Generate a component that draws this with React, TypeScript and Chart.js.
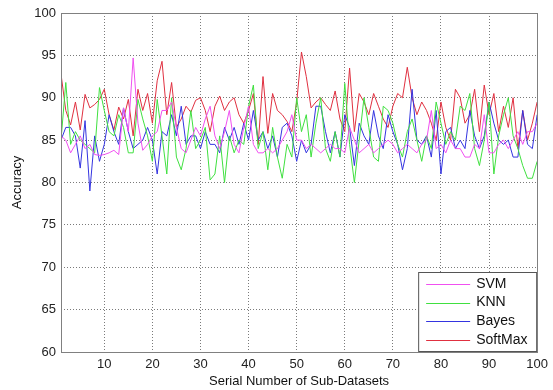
import React, { useEffect, useRef } from "react";
import { Chart, registerables } from "chart.js";

Chart.register(...registerables);

const seriesNames = ["SVM", "KNN", "Bayes", "SoftMax"];
const seriesColors = ["#f050f0", "#40e040", "#3434e0", "#e03040"];

const xTicks = [10, 20, 30, 40, 50, 60, 70, 80, 90, 100];
const yTicks = [60, 65, 70, 75, 80, 85, 90, 95, 100];

const svm = [
  85.5, 85.0, 83.5, 84.5, 85.5, 84.0, 84.5, 83.3, 83.2, 83.3,
  83.5, 83.8, 83.3, 88.8, 86.0, 94.7, 87.0, 83.8, 84.5, 85.5,
  86.0, 88.5, 88.5, 89.5, 86.5, 84.0, 83.5, 85.0, 86.5, 85.5,
  87.5, 89.0, 85.5, 84.0, 86.0, 88.5, 84.5, 83.5, 86.5, 89.0,
  84.5, 83.5, 83.5, 84.0, 83.5, 84.0, 85.0, 86.0, 88.0, 85.0,
  85.0, 84.0, 84.5, 84.0, 83.5, 84.0, 84.5, 84.0, 84.0, 83.5,
  86.5, 85.0, 83.5, 84.0, 84.5, 83.5, 84.0, 84.5, 85.0, 84.5,
  83.5, 84.0, 84.5, 84.0, 83.5, 84.5, 85.0, 88.5, 84.0, 84.5,
  83.5, 85.0, 84.0, 84.0, 83.0, 83.0, 84.5, 84.0, 88.0, 83.5,
  83.5, 84.5, 85.0, 84.0, 85.0, 86.0, 84.5, 86.0, 86.0, 87.0,
];

const knn = [
  85.0, 91.8, 84.5, 86.0, 85.0, 84.5, 84.0, 83.5, 91.2, 88.5,
  86.0, 85.5, 88.0, 86.5, 83.5, 83.5, 89.8, 87.5, 85.5, 82.5,
  89.8, 85.5, 81.0, 90.0, 83.0, 81.5, 84.0, 88.5, 84.0, 85.0,
  86.5, 80.3, 81.0, 85.5, 80.0, 85.5, 83.5, 85.0, 84.5, 89.0,
  91.5, 84.0, 86.0, 81.5, 86.5, 83.0, 80.5, 84.5, 83.0, 90.0,
  86.0, 88.0, 83.0, 87.0, 90.0, 84.0, 82.5, 86.0, 83.0, 91.7,
  84.5, 80.0, 85.0, 90.0, 86.5, 83.0, 82.5, 89.0, 88.5, 87.0,
  84.5, 83.0, 86.0, 87.5, 85.0, 82.5, 85.5, 84.0, 89.5, 87.0,
  84.5, 86.0, 85.0, 89.0, 88.5, 90.5, 84.0, 82.0, 85.0, 89.5,
  81.0, 85.5, 88.0, 90.0, 85.5, 84.0, 82.0, 80.5, 80.5, 82.5,
];

const bayes = [
  85.0, 86.5, 86.5, 85.5, 81.7, 87.3, 79.0, 85.5, 82.5, 84.5,
  88.0, 86.0, 84.5, 88.8, 86.0, 84.0, 84.5, 85.0, 86.5, 85.0,
  81.0, 86.0, 85.5, 88.0, 85.5, 89.0, 84.5, 85.5, 85.5, 84.0,
  86.0, 84.5, 84.5, 83.5, 86.5, 85.0, 86.5, 84.5, 87.0, 85.0,
  88.5, 85.0, 86.0, 84.0, 85.5, 83.0, 86.5, 87.0, 85.5, 82.5,
  85.0, 83.5, 84.5, 89.0, 89.0, 86.0, 83.5, 86.0, 83.0, 88.0,
  86.5, 82.0, 87.0, 85.5, 84.5, 88.5, 85.5, 84.0, 88.0, 86.0,
  84.5, 81.5, 84.0, 91.0, 85.0, 84.5, 85.5, 83.0, 88.5, 81.0,
  86.0, 86.5, 84.0, 85.0, 84.0, 88.5, 85.5, 84.0, 85.5, 89.5,
  87.0, 85.0, 84.5, 85.0, 83.0, 83.0, 88.5, 84.5, 84.0, 88.0,
];

const softmax = [
  92.8, 88.5, 86.8, 89.5, 86.2, 90.4, 88.8, 89.2, 89.8, 91.0,
  88.0, 86.2, 88.9, 87.5, 89.8, 85.5, 91.0, 88.5, 90.5, 87.0,
  92.0, 94.3, 88.0, 91.8, 86.5, 87.5, 89.0, 88.3, 89.7, 90.0,
  88.5, 86.0, 89.0, 90.2, 88.5, 89.5, 90.0, 88.0, 87.0, 88.5,
  90.5, 84.5, 92.5, 85.8, 90.5, 88.5, 88.0, 87.2, 86.0, 89.5,
  95.4, 92.5, 88.8, 89.5, 90.0, 89.2, 88.5, 90.8, 87.5, 86.0,
  93.5, 86.0, 90.5, 89.5, 88.0, 90.5, 89.0, 87.5, 86.5, 89.0,
  90.5, 90.0, 93.6, 90.0, 88.0, 89.5, 88.5, 87.0, 85.0, 89.5,
  86.5, 85.0, 91.0, 90.0, 87.0, 88.0, 91.0, 86.0, 91.5, 88.0,
  90.5, 86.0, 89.0, 86.5, 90.0, 84.0, 88.5, 85.0, 87.0, 89.5,
];

const seriesValues = [svm, knn, bayes, softmax];

const FONT = "'Liberation Sans', Arial, sans-serif";

const boxPlugin = {
  id: "boxAndLegend",
  afterDatasetsDraw(chart: any) {
    const { ctx, chartArea } = chart;
    const { left, right, top, bottom } = chartArea;
    ctx.save();
    // legend box
    const lw = 119;
    const lh = 80;
    const lx = right - lw;
    const ly = bottom - lh;
    ctx.fillStyle = "#ffffff";
    ctx.fillRect(lx, ly, lw, lh);
    ctx.strokeStyle = "#555555";
    ctx.lineWidth = 1;
    ctx.strokeRect(lx + 0.5, ly + 0.5, lw - 1, lh - 1);
    ctx.font = `14px ${FONT}`;
    ctx.textBaseline = "middle";
    ctx.textAlign = "left";
    chart.data.datasets.forEach((ds: any, i: number) => {
      const y = ly + 12 + i * 18.6;
      ctx.strokeStyle = ds.borderColor;
      ctx.beginPath();
      ctx.moveTo(lx + 8, Math.round(y) + 0.5);
      ctx.lineTo(lx + 52, Math.round(y) + 0.5);
      ctx.stroke();
      ctx.fillStyle = "#111111";
      ctx.fillText(ds.label, lx + 58, y);
    });
    // plot frame
    ctx.strokeStyle = "#808080";
    ctx.lineWidth = 1;
    ctx.strokeRect(Math.round(left) + 0.5, Math.round(top) + 0.5, Math.round(right - left), Math.round(bottom - top));
    ctx.restore();
  },
};

export default function App() {
  const ref = useRef<HTMLCanvasElement | null>(null);
  useEffect(() => {
    if (!ref.current) return;
    const chart = new Chart(ref.current, {
      type: "line",
      data: {
        datasets: seriesNames.map((name, si) => ({
          label: name,
          data: seriesValues[si].map((v, i) => ({ x: i + 1, y: v })),
          borderColor: seriesColors[si],
          backgroundColor: seriesColors[si],
          borderWidth: 1,
          pointRadius: 0,
          tension: 0,
          fill: false,
        })),
      },
      options: {
        animation: false,
        responsive: false,
        maintainAspectRatio: false,
        layout: { padding: { top: 13, right: 11, left: 0, bottom: 0 } },
        plugins: { legend: { display: false }, tooltip: { enabled: false } },
        scales: {
          x: {
            type: "linear",
            min: 1,
            max: 100,
            afterBuildTicks: (s: any) => {
              s.ticks = xTicks.map((v) => ({ value: v }));
            },
            afterFit: (s: any) => {
              s.height = 38;
            },
            grid: { color: "#7a7a7a", borderDash: [1, 2], drawTicks: false, lineWidth: 1 } as any,
            border: { display: false, dash: [1, 2] },
            ticks: { color: "#222", font: { family: FONT, size: 13 }, padding: 5, maxRotation: 0, autoSkip: false },
            title: {
              display: true,
              text: "Serial Number of Sub-Datasets",
              color: "#111",
              font: { family: FONT, size: 13 },
              padding: { top: 0, bottom: 1 },
            },
          },
          y: {
            type: "linear",
            min: 60,
            max: 100,
            afterBuildTicks: (s: any) => {
              s.ticks = yTicks.map((v) => ({ value: v }));
            },
            afterFit: (s: any) => {
              s.width = 61;
            },
            grid: { color: "#7a7a7a", drawTicks: false, lineWidth: 1 },
            border: { display: false, dash: [1, 2] },
            ticks: { color: "#222", font: { family: FONT, size: 13 }, padding: 5 },
            title: {
              display: true,
              text: "Accuracy",
              color: "#111",
              font: { family: FONT, size: 13 },
              padding: { top: 10, bottom: 0 },
            },
          },
        },
      },
      plugins: [boxPlugin],
    } as any);
    return () => chart.destroy();
  }, []);
  return (
    <div style={{ position: "absolute", left: 0, top: 0, width: 553, height: 390, background: "#fff" }}>
      <canvas ref={ref} width={553} height={390} style={{ display: "block", width: 553, height: 390 }} />
    </div>
  );
}
